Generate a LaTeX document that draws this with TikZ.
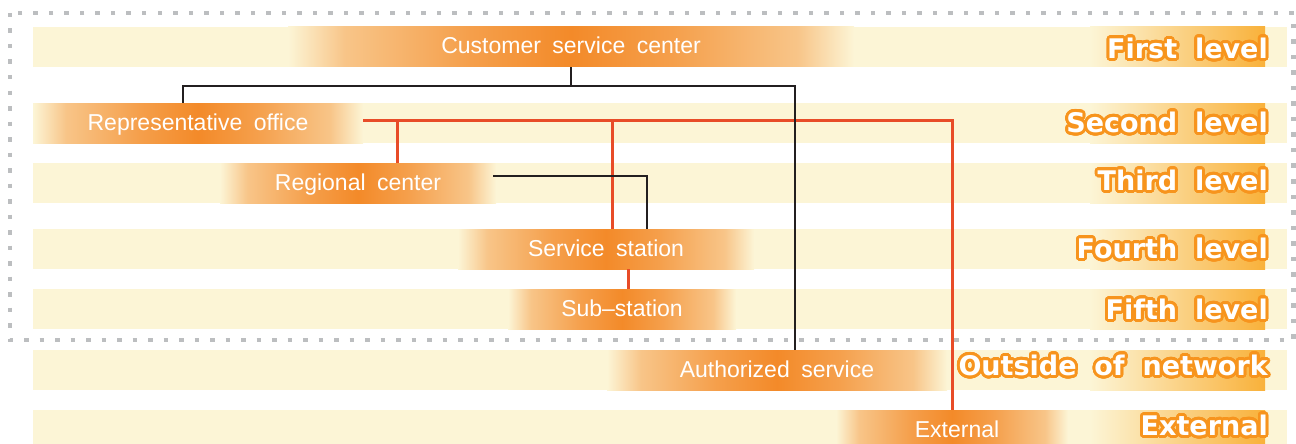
\documentclass[tikz,border=0pt]{standalone}
\usepackage{fontspec}
\usepackage[copies]{contour}
\setmainfont{Liberation Sans}
\newfontfamily\postfont{Liberation Sans}[WordSpace=1.8]
\newfontfamily\levelfont{DejaVu Sans}[WordSpace=1.9]

\definecolor{pale}{HTML}{FCF5D6}
\definecolor{peak}{HTML}{F38A29}
\colorlet{warm}{peak!45!pale}
\colorlet{hot}{peak!80!pale}
\definecolor{lvlend}{HTML}{F9B13A}
\definecolor{rim}{HTML}{F7941D}
\definecolor{linkred}{HTML}{E84C28}
\definecolor{linkblack}{HTML}{231F20}
\definecolor{dotgray}{HTML}{BCBEC0}

% pale -> orange -> pale glow behind each post (25bp..75bp fills the node)
\pgfdeclarehorizontalshading{glow}{100bp}{color(0bp)=(pale); color(25bp)=(pale);
  color(30bp)=(warm); color(41bp)=(hot); color(50bp)=(peak);
  color(59bp)=(hot); color(70bp)=(warm); color(75bp)=(pale); color(100bp)=(pale)}

\contourlength{2.8pt}
\contournumber{40}

\tikzset{
  post/.style={shading=glow, minimum height=40pt, inner sep=0pt,
    text=white, text height=14pt, text depth=0pt,
    font=\postfont\fontsize{23}{26}\selectfont},
  level/.style={anchor=base east, inner sep=0pt, text=white,
    font=\levelfont\bfseries\fontsize{27}{30}\selectfont},
  blk/.style={draw=linkblack, line width=2pt},
  rd/.style={draw=linkred, line width=3pt},
  border/.style={draw=dotgray, line width=4.5pt, dash pattern=on 4.5pt off 11pt},
}

\begin{document}
\begin{tikzpicture}[x=1pt,y=-1pt]
\useasboundingbox (0,0) rectangle (1296,444);

% level rows with the glow behind the level names
\foreach \yc in {47,123,183,249,309,370,430} {
  \fill[pale] (33,\yc-20) rectangle (1287,\yc+20);
  \shade[left color=pale,right color=lvlend] (1090,\yc-20) rectangle (1265,\yc+20);
}

% posts of the service network
\node[post, minimum width=566pt] (csc) at (571,47)  {Customer service center};
\node[post, minimum width=330pt] (rep) at (198,123) {Representative office};
\node[post, minimum width=276pt] (reg) at (358,183) {Regional center};
\node[post, minimum width=296pt] (sst) at (606,249) {Service station};
\node[post, minimum width=228pt] (sub) at (622,309) {Sub–station};
\node[post, minimum width=340pt] (aut) at (777,370) {Authorized service};
\node[post, minimum width=232pt] (ext) at (952,430) {\hspace*{10pt}External};

% level names
\node[level] (l1) at (1268,58.5)  {\contour{rim}{First level}};
\node[level] (l2) at (1268,132.5) {\contour{rim}{Second level}};
\node[level] (l3) at (1268,190.5) {\contour{rim}{Third level}};
\node[level] (l4) at (1268,258.5) {\contour{rim}{Fourth level}};
\node[level] (l5) at (1268,319.5) {\contour{rim}{Fifth level}};
\node[level] (l6) at (1268,375.5) {\contour{rim}{Outside of network}};
\node[level] (l7) at (1268,435.5) {\contour{rim}{External}};

% network boundary
\draw[border] (10,13) rectangle (1293.5,340);

% red links from the representative office
\coordinate (rh) at ([yshift=3pt]rep.east);
\draw[rd] (rh) -| (ext.north);
\draw[rd] ([xshift=39pt]reg.north) -- ++(0,-43);
\draw[rd] ([xshift=6pt]sst.north) -- ++(0,-109);
\draw[rd] ([xshift=22pt]sst.south) -- ([xshift=6pt]sub.north);

% black links
\draw[blk] (csc.south) -- ++(0,19) coordinate (tj);
\draw[blk] ([xshift=-15pt]rep.north) |- (tj) -| ([xshift=18pt]aut.north);
\draw[blk] ([xshift=-3pt,yshift=7pt]reg.east) -| ([xshift=41pt]sst.north);
\end{tikzpicture}
\end{document}
